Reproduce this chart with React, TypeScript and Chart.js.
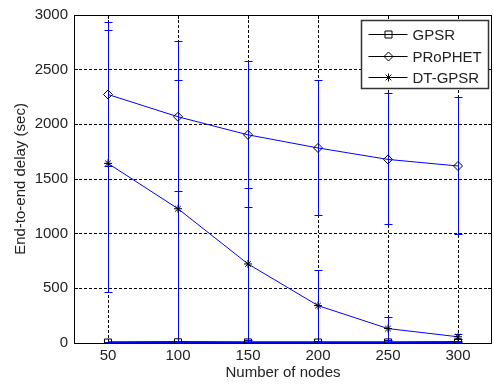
import React, { useEffect, useRef } from "react";
import { Chart, registerables } from "chart.js";

Chart.register(...registerables);

const nodes = [50, 100, 150, 200, 250, 300];
const xTicks = [50, 100, 150, 200, 250, 300];
const yTicks = [0, 500, 1000, 1500, 2000, 2500, 3000];

const seriesNames = ["GPSR", "PRoPHET", "DT-GPSR"];

const gpsr = [4, 6, 5, 4, 5, 6];
const gpsrLow = [1, 2, 2, 1, 2, 2];
const gpsrHigh = [8, 10, 9, 8, 9, 10];

const prophet = [2273, 2069, 1904, 1784, 1679, 1619];
const prophetLow = [1612, 1387, 1243, 1162, 1084, 988];
const prophetHigh = [2934, 2759, 2573, 2399, 2279, 2250];

const dtgpsr = [1643, 1228, 723, 342, 132, 57];
const dtgpsrLow = [462, 10, 20, 15, 27, 33];
const dtgpsrHigh = [2856, 2399, 1417, 667, 237, 81];

const FONT = "'Liberation Sans', Arial, sans-serif";
const TEXT = "#222";
const BLUE = "#0000ff";

const errSets = [
  { low: gpsrLow, high: gpsrHigh },
  { low: prophetLow, high: prophetHigh },
  { low: dtgpsrLow, high: dtgpsrHigh },
];

const align = (p: number) => Math.round(p - 0.5) + 0.5;

function drawMarker(ctx: CanvasRenderingContext2D, kind: string, x: number, y: number) {
  ctx.beginPath();
  if (kind === "rect") {
    ctx.rect(x - 3.5, y - 3.5, 7, 7);
  } else if (kind === "rectRot") {
    ctx.moveTo(x, y - 4.5);
    ctx.lineTo(x + 4.5, y);
    ctx.lineTo(x, y + 4.5);
    ctx.lineTo(x - 4.5, y);
    ctx.closePath();
  } else {
    const r = 4;
    const d = r * Math.SQRT1_2;
    ctx.moveTo(x - r, y); ctx.lineTo(x + r, y);
    ctx.moveTo(x, y - r); ctx.lineTo(x, y + r);
    ctx.moveTo(x - d, y - d); ctx.lineTo(x + d, y + d);
    ctx.moveTo(x - d, y + d); ctx.lineTo(x + d, y - d);
  }
  ctx.stroke();
}

const pointKinds = ["rect", "rectRot", "star"];

const underPlugin = {
  id: "underLayer",
  beforeDatasetsDraw(chart: any) {
    const { ctx, scales, chartArea } = chart;
    const { left, right, top, bottom } = chartArea;
    const x = scales.x;
    const y = scales.y;
    ctx.save();
    ctx.strokeStyle = "#000";
    ctx.lineWidth = 1;
    ctx.beginPath();
    ctx.rect(left + 0.5, top + 0.5, right - left - 1, bottom - top);
    ctx.stroke();
    ctx.beginPath();
    xTicks.forEach((v) => {
      const px = align(x.getPixelForValue(v));
      ctx.moveTo(px, top);
      ctx.lineTo(px, top + 4);
      ctx.moveTo(px, bottom);
      ctx.lineTo(px, bottom - 4);
    });
    yTicks.forEach((v) => {
      const py = align(y.getPixelForValue(v));
      ctx.moveTo(left, py);
      ctx.lineTo(left + 4, py);
      ctx.moveTo(right, py);
      ctx.lineTo(right - 4, py);
    });
    ctx.stroke();
    ctx.strokeStyle = BLUE;
    errSets.forEach((set) => {
      nodes.forEach((n, i) => {
        const px = align(x.getPixelForValue(n));
        const yl = align(y.getPixelForValue(set.low[i]));
        const yh = align(y.getPixelForValue(set.high[i]));
        ctx.beginPath();
        ctx.moveTo(px, yl);
        ctx.lineTo(px, yh);
        ctx.moveTo(px - 4, yl);
        ctx.lineTo(px + 4, yl);
        ctx.moveTo(px - 4, yh);
        ctx.lineTo(px + 4, yh);
        ctx.stroke();
      });
    });
    ctx.restore();
  },
};

const legendPlugin = {
  id: "boxLegend",
  afterDraw(chart: any) {
    const { ctx, chartArea } = chart;
    const { right, top } = chartArea;
    ctx.save();
    const bw = 127;
    const bh = 68;
    const bx = Math.round(right - 4 - bw) + 0.5;
    const by = Math.round(top + 5) + 0.5;
    ctx.fillStyle = "#fff";
    ctx.fillRect(bx, by, bw, bh);
    ctx.strokeStyle = "#333";
    ctx.lineWidth = 1.5;
    ctx.strokeRect(bx, by, bw, bh);
    ctx.lineWidth = 1;
    ctx.font = `15px ${FONT}`;
    ctx.textBaseline = "middle";
    ctx.textAlign = "left";
    const rows = [13, 35, 56];
    seriesNames.forEach((name, i) => {
      const ry = Math.round(by + rows[i]) + 0.5;
      ctx.strokeStyle = "#000";
      ctx.beginPath();
      ctx.moveTo(bx + 7, ry);
      ctx.lineTo(bx + 46, ry);
      ctx.stroke();
      drawMarker(ctx, pointKinds[i], bx + 27, ry);
      ctx.fillStyle = TEXT;
      ctx.fillText(name, bx + 51, ry + 1);
    });
    ctx.restore();
  },
};

export default function App() {
  const ref = useRef<HTMLCanvasElement | null>(null);

  useEffect(() => {
    if (!ref.current) return;
    const mk = (vals: number[]) => nodes.map((n, i) => ({ x: n, y: vals[i] }));
    const chart = new Chart(ref.current, {
      type: "line",
      data: {
        datasets: [
          {
            label: seriesNames[0],
            data: mk(gpsr),
            borderColor: BLUE,
            borderWidth: 2.5,
            pointStyle: "rect",
            pointRadius: 5,
            pointBorderColor: "#000",
            pointBackgroundColor: "rgba(0,0,0,0)",
            pointBorderWidth: 1,
            fill: false,
          },
          {
            label: seriesNames[1],
            data: mk(prophet),
            borderColor: BLUE,
            borderWidth: 1,
            pointStyle: "rectRot",
            pointRadius: 4.5,
            pointBorderColor: "#000",
            pointBackgroundColor: "rgba(0,0,0,0)",
            pointBorderWidth: 1,
            fill: false,
          },
          {
            label: seriesNames[2],
            data: mk(dtgpsr),
            borderColor: BLUE,
            borderWidth: 1,
            pointStyle: "star",
            pointRadius: 4,
            pointBorderColor: "#000",
            pointBackgroundColor: "rgba(0,0,0,0)",
            pointBorderWidth: 1,
            fill: false,
          },
        ],
      },
      options: {
        responsive: false,
        animation: false,
        devicePixelRatio: 1,
        layout: { autoPadding: false, padding: { top: 10, right: 2, left: 0, bottom: 0 } },
        plugins: {
          legend: { display: false },
          tooltip: { enabled: false },
        },
        elements: { line: { tension: 0 } },
        scales: {
          x: {
            type: "linear",
            min: 50 - 34 / 1.4,
            max: 300 + 34 / 1.4,
            afterBuildTicks: (scale: any) => {
              scale.ticks = xTicks.map((v) => ({ value: v }));
            },
            afterFit: (scale: any) => {
              scale.height = 42;
            },
            grid: {
              color: "#000",
              lineWidth: 1,
              drawTicks: false,
            },
            border: { display: false, dash: [3, 2] },
            ticks: {
              padding: 4,
              color: TEXT,
              font: { family: FONT, size: 15 },
              maxRotation: 0,
              autoSkip: false,
              callback: (v: any) => String(v),
            },
            title: {
              display: true,
              text: "Number of nodes",
              color: TEXT,
              font: { family: FONT, size: 15 },
              padding: { top: 0, bottom: 3 },
            },
          },
          y: {
            type: "linear",
            min: 0,
            max: 3000,
            afterBuildTicks: (scale: any) => {
              scale.ticks = yTicks.map((v) => ({ value: v }));
            },
            afterFit: (scale: any) => {
              scale.width = 74;
            },
            grid: {
              color: "#000",
              lineWidth: 1,
              drawTicks: false,
            },
            border: { display: false, dash: [3, 2] },
            ticks: {
              padding: 6,
              color: TEXT,
              font: { family: FONT, size: 15 },
              autoSkip: false,
              callback: (v: any) => String(v),
            },
            title: {
              display: true,
              text: "End-to-end delay (sec)",
              color: TEXT,
              font: { family: FONT, size: 15 },
              padding: { top: 12, bottom: 0 },
            },
          },
        },
      },
      plugins: [underPlugin, legendPlugin],
    });
    return () => chart.destroy();
  }, []);

  return (
    <div style={{ position: "absolute", left: 0, top: 0, width: 494, height: 385, background: "#fff" }}>
      <canvas ref={ref} width={494} height={385} style={{ width: 494, height: 385 }} />
    </div>
  );
}
